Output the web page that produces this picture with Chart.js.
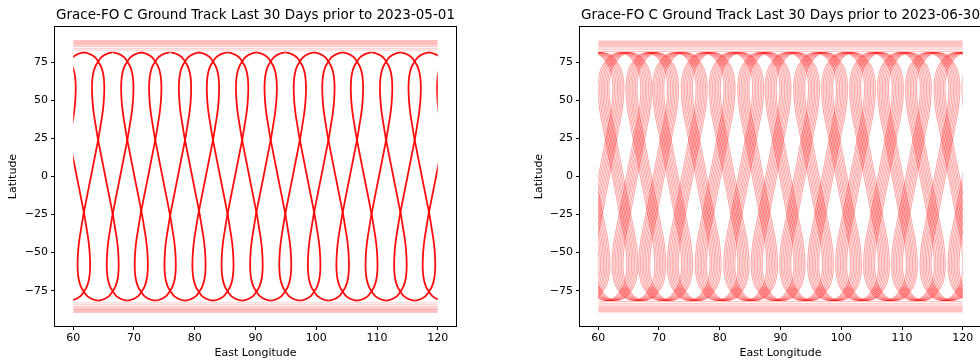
<!DOCTYPE html>
<html><head><meta charset="utf-8">
<script src="https://cdn.jsdelivr.net/npm/chart.js@4.4.1/dist/chart.umd.min.js"></script>
<style>
html,body{margin:0;padding:0;background:#fff;overflow:hidden;width:980px;height:362px;position:relative}
#wrapL{position:absolute;left:0;top:0;width:490px;height:362px}
#wrapR{position:absolute;left:490px;top:0;width:500px;height:362px}
</style></head><body>
<div id="wrapL"><canvas id="cL" width="490" height="362"></canvas></div>
<div id="wrapR"><canvas id="cR" width="500" height="362"></canvas></div>
<script>
// ---- data ----
const titleL = 'Grace-FO C Ground Track Last 30 Days prior to 2023-05-01';
const titleR = 'Grace-FO C Ground Track Last 30 Days prior to 2023-06-30';
const xTicks = [60, 70, 80, 90, 100, 110, 120];
const yTicks = [-75, -50, -25, 0, 25, 50, 75];
const lonRange = [60, 120];

// one pass (north apex -> south apex): latitude and longitude offset from the loop crossing
const trackLat = [81.5, 81.2, 80.6, 79.6, 78.2, 75.5, 72, 67, 61, 55, 48, 41, 34, 28, 24, 12, 0,
                  -12, -24, -28, -34, -41, -48, -55, -61, -67, -72, -75.5, -78.2, -79.6, -80.6, -81.2, -81.5];
const trackDxL = [-2.37, -1.9, -1.45, -0.95, -0.5, 0, 0.5, 0.85, 1.0, 1.0, 0.9, 0.7, 0.42, 0.18, 0, -0.59, -1.18,
                  -1.78, -2.37, -2.55, -2.79, -3.07, -3.27, -3.37, -3.37, -3.22, -2.87, -2.37, -1.87, -1.42, -0.92, -0.47, 0];
const trackDxR = [-2.3, -1.85, -1.4, -0.92, -0.48, 0, 0.6, 1.0, 1.2, 1.2, 1.08, 0.84, 0.5, 0.2, 0, -0.57, -1.15,
                  -1.73, -2.3, -2.5, -2.8, -3.14, -3.38, -3.5, -3.5, -3.3, -2.9, -2.3, -1.82, -1.38, -0.9, -0.45, 0];

// longitudes of the loop crossings at ~25N
const centersL = [59.4, 64.1, 68.9, 73.5, 78.4, 83.0, 87.8, 92.5, 97.3, 102.0, 106.7, 111.5, 116.2, 120.9];
const centersR = [57.5, 62.1, 66.7, 71.1, 75.8, 80.4, 85.1, 89.6, 94.3, 98.9, 103.5, 108.1, 112.7, 117.4, 122.0];
// drift of repeated passes
const driftL = [0];
const driftR = [-0.9, -0.64, -0.38, -0.12, 0.12, 0.38, 0.64, 0.9];

// near-polar horizontal streaks
const bandNorthL = [89.3, 88.8, 88.3, 87.8, 87.3, 86.8, 86.2, 85.4, 84.2, 83.0];
const bandSouthL = [-89.3, -88.8, -88.3, -87.8, -87.3, -86.8, -86.2, -85.4, -84.2, -83.0];
const bandNorthR = [89.0, 88.4, 87.8, 87.2, 86.6, 86.0, 85.3, 84.4, 83.3, 82.1];
const bandSouthR = [-89.0, -88.4, -87.8, -87.2, -86.6, -86.0, -85.3, -84.4, -83.3, -82.1];

// ---- build ----
const FONT = "'DejaVu Sans', 'Liberation Sans', sans-serif";

function passDatasets(centers, drifts, dx, color, width) {
  const out = [];
  centers.forEach(c => drifts.forEach(d => {
    out.push({data: trackLat.map((lat, i) => ({x: c + d + dx[i], y: lat})), borderColor: color, borderWidth: width});
    out.push({data: trackLat.map((lat, i) => ({x: c + d - dx[i], y: lat})), borderColor: color, borderWidth: width});
  }));
  return out;
}
function bandDatasets(lats, color) {
  return lats.map(lat => ({data: [{x: lonRange[0], y: lat}, {x: lonRange[1], y: lat}], borderColor: color, borderWidth: 1, tension: 0}));
}

const framePlugin = {
  id: 'frame',
  beforeDatasetsDraw(chart) {
    const {ctx, chartArea: a, scales: {x}} = chart;
    const l = x.getPixelForValue(lonRange[0]), r = x.getPixelForValue(lonRange[1]);
    ctx.save();
    ctx.beginPath();
    ctx.rect(l, a.top, r - l, a.bottom - a.top);
    ctx.clip();
  },
  afterDatasetsDraw(chart) { chart.ctx.restore(); },
  afterDraw(chart) {
    const {ctx, chartArea: a} = chart;
    ctx.save();
    ctx.strokeStyle = '#000';
    ctx.lineWidth = 1;
    ctx.strokeRect(Math.round(a.left) - 0.5, Math.round(a.top) - 0.5, Math.round(a.right - a.left) + 1, Math.round(a.bottom - a.top) + 1);
    ctx.restore();
  }
};

function makeChart(id, title, datasets, padL, padR, yWidth) {
  return new Chart(document.getElementById(id), {
    type: 'scatter',
    data: {datasets},
    options: {
      responsive: false, animation: false, events: [],
      layout: {padding: {left: padL, right: padR, top: 0, bottom: 0}},
      datasets: {scatter: {showLine: true, pointRadius: 0, tension: 0.4, fill: false, clip: false}},
      plugins: {
        legend: {display: false}, tooltip: {enabled: false},
        title: {display: true, text: title, fullSize: false, color: '#000',
                font: {family: FONT, size: 13.5, weight: 'normal'}, padding: {top: 7, bottom: 3.8}}
      },
      scales: {
        x: {type: 'linear', min: 57, max: 123,
            afterBuildTicks: s => { s.ticks = xTicks.map(v => ({value: v})); },
            afterFit: s => { s.height = 36; },
            ticks: {color: '#000', font: {family: FONT, size: 11}, padding: 2, maxRotation: 0, autoSkip: false},
            grid: {drawOnChartArea: false, drawTicks: true, tickLength: 4, color: '#000', lineWidth: 1},
            border: {display: false},
            title: {display: true, text: 'East Longitude', color: '#000', font: {family: FONT, size: 11}, padding: {top: 0, bottom: 2}}},
        y: {type: 'linear', min: -98.2, max: 98.2,
            afterBuildTicks: s => { s.ticks = yTicks.map(v => ({value: v})); },
            afterFit: s => { s.width = yWidth; },
            ticks: {color: '#000', font: {family: FONT, size: 11}, padding: 3, autoSkip: false,
                    callback: v => v < 0 ? '\u2212' + Math.abs(v) : String(v)},
            grid: {drawOnChartArea: false, drawTicks: true, tickLength: 4, color: '#000', lineWidth: 1},
            border: {display: false},
            title: {display: true, text: 'Latitude', color: '#000', font: {family: FONT, size: 11}, padding: {top: 7, bottom: 0}}}
      }
    },
    plugins: [framePlugin]
  });
}

const dsL = [].concat(
  bandDatasets(bandNorthL, 'rgba(255,0,0,0.22)'),
  bandDatasets(bandSouthL, 'rgba(255,0,0,0.22)'),
  passDatasets(centersL, driftL, trackDxL, 'rgba(255,0,0,0.95)', 1.8)
);
const dsR = [].concat(
  bandDatasets(bandNorthR, 'rgba(255,0,0,0.24)'),
  bandDatasets(bandSouthR, 'rgba(255,0,0,0.24)'),
  passDatasets(centersR, driftR, trackDxR, 'rgba(255,0,0,0.34)', 1.1)
);
makeChart('cL', titleL, dsL, 0, 34, 55);
makeChart('cR', titleR, dsR, 36, 9, 54);
</script>
</body></html>
